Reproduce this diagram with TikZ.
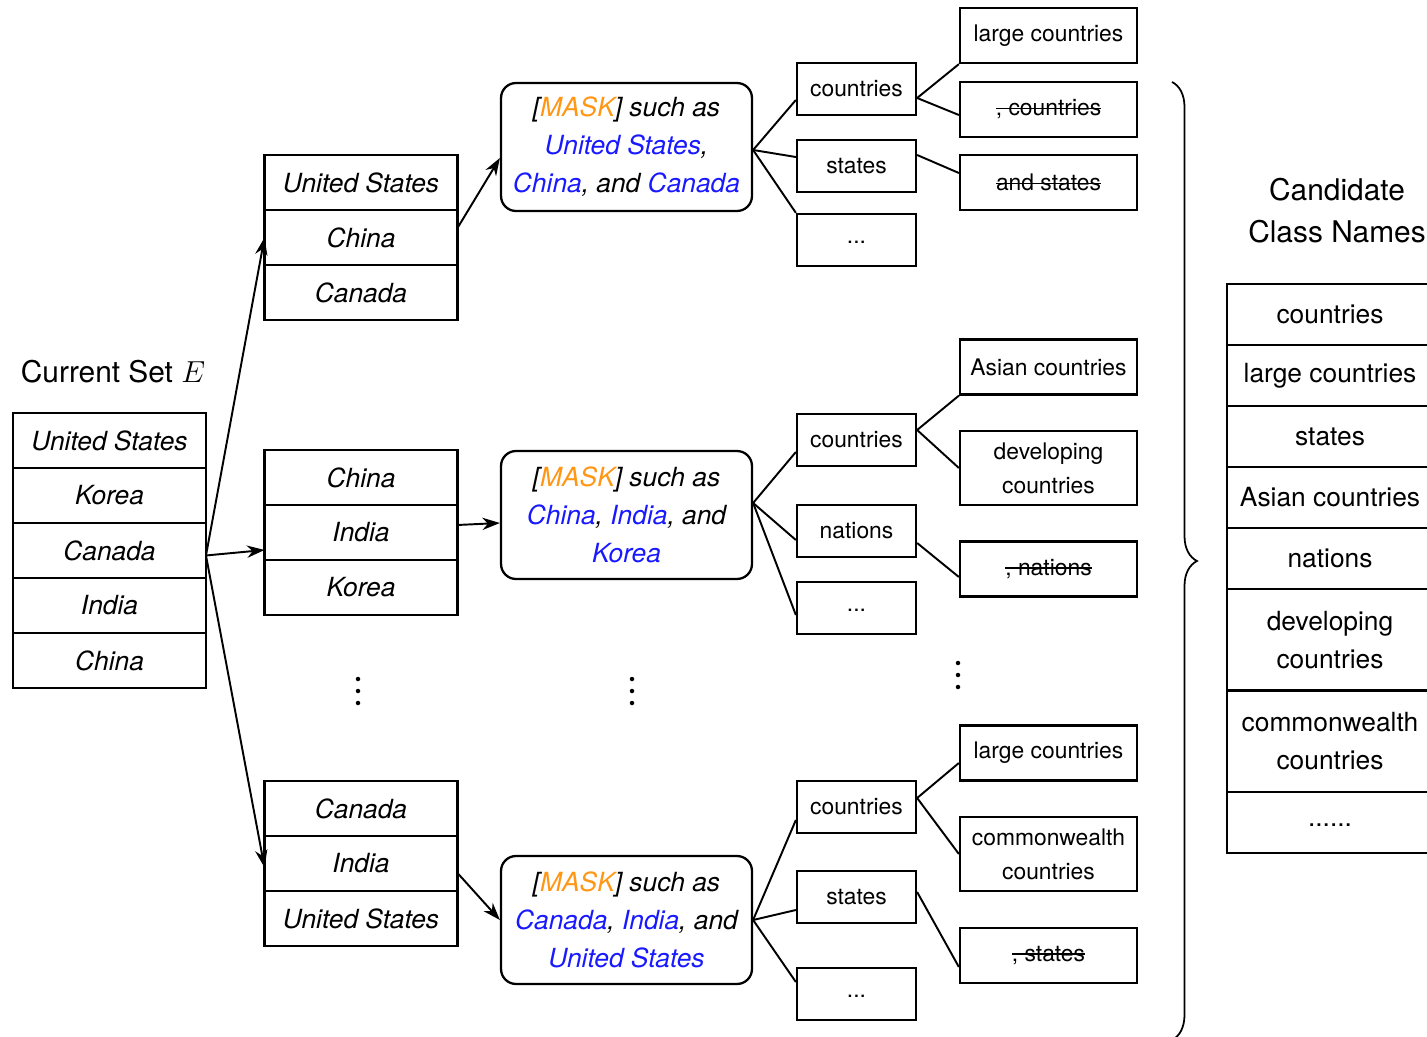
\documentclass[tikz,border=0pt]{standalone}
\usepackage{fontspec}
\setmainfont{TeX Gyre Heros}
\usepackage{tikz}
\usetikzlibrary{positioning}
\usetikzlibrary{arrows.meta}
\usetikzlibrary{decorations.pathreplacing}

\definecolor{maskorange}{RGB}{255,150,20}
\definecolor{seedblue}{RGB}{25,25,255}

\newcommand{\mask}{[\textcolor{maskorange}{MASK}]}
\newcommand{\seed}[1]{\textcolor{seedblue}{#1}}
\newcommand{\struck}[1]{\setbox0\hbox{#1}\rlap{\rule[0.3em]{\wd0}{0.7pt}}\box0}

\tikzset{
  cell/.style={draw, line width=1.3pt, outer sep=0pt, inner sep=0pt, minimum width=3.86cm, minimum height=1.1cm, font=\fontsize{15}{18}\selectfont\itshape},
  prompt/.style={draw, line width=1.3pt, rounded corners=0.3cm, minimum width=5.02cm, minimum height=2.56cm, align=center, font=\fontsize{15}{21.6}\selectfont\itshape},
  word/.style={draw, line width=1.3pt, minimum width=2.38cm, minimum height=1.04cm, font=\fontsize{13}{16}\selectfont},
  phrase/.style={draw, line width=1.3pt, minimum width=3.54cm, minimum height=1.1cm, align=center, font=\fontsize{13}{19.4}\selectfont},
  cand/.style={draw, line width=1.3pt, outer sep=0pt, inner sep=0pt, minimum width=4.12cm, minimum height=1.22cm, align=center, font=\fontsize{15}{21.6}\selectfont},
  more/.style={text height=0.45em, text depth=0pt},
  heading/.style={align=center, font=\fontsize{17}{24}\selectfont},
  link/.style={line width=1.1pt},
  feed/.style={line width=1.1pt, -{Stealth[length=10pt, width=7pt]}}
}

\begin{document}
\begin{tikzpicture}[x=0.02cm, y=-0.02cm]
    \useasboundingbox (0,0) rectangle (1427,1037);
    \clip (0,0) rectangle (1427,1037);

    % current set
    \node[heading] (curtitle) at (113,372) {Current Set $E$};
    \node[cell] (cur1) at (109.5,440.5) {United States};
    \node[cell, below=0pt of cur1] (cur2) {Korea};
    \node[cell, below=0pt of cur2] (cur3) {Canada};
    \node[cell, below=0pt of cur3] (cur4) {India};
    \node[cell, below=0pt of cur4] (cur5) {China};

    % sampled seeds
    \node[cell] (t1) at (361,182.5) {United States};
    \node[cell, below=0pt of t1] (t2) {China};
    \node[cell, below=0pt of t2] (t3) {Canada};
    \node[cell] (m1) at (361,477.5) {China};
    \node[cell, below=0pt of m1] (m2) {India};
    \node[cell, below=0pt of m2] (m3) {Korea};
    \node[cell] (b1) at (361,808.5) {Canada};
    \node[cell, below=0pt of b1] (b2) {India};
    \node[cell, below=0pt of b2] (b3) {United States};

    % queries
    \node[prompt] (p1) at (626.5,147) {\mask{} such as\\\seed{United States},\\\seed{China}, and \seed{Canada}};
    \node[prompt] (p2) at (626.5,515) {\mask{} such as\\\seed{China}, \seed{India}, and\\\seed{Korea}};
    \node[prompt] (p3) at (626.5,920) {\mask{} such as\\\seed{Canada}, \seed{India}, and\\\seed{United States}};

    % head words
    \node[word] (ta) at (856.5,89) {countries};
    \node[word] (tb) at (856.5,166) {states};
    \node[word, more] (tc) at (856.5,240) {...};
    \node[word] (ma) at (856.5,440) {countries};
    \node[word] (mb) at (856.5,531) {nations};
    \node[word, more] (mc) at (856.5,608) {...};
    \node[word] (ba) at (856.5,807) {countries};
    \node[word] (bb) at (856.5,897) {states};
    \node[word, more] (bc) at (856.5,994) {...};

    % expanded phrases
    \node[phrase] (tpa) at (1048.5,35.5) {large countries};
    \node[phrase] (tpb) at (1048.5,109.5) {\struck{, countries}};
    \node[phrase] (tpc) at (1048.5,182.5) {\struck{and states}};
    \node[phrase] (mpa) at (1048.5,367) {Asian countries};
    \node[phrase, minimum height=1.48cm] (mpb) at (1048.5,468) {developing\\countries};
    \node[phrase] (mpc) at (1048.5,569) {\struck{, nations}};
    \node[phrase] (bpa) at (1048.5,753) {large countries};
    \node[phrase, minimum height=1.48cm] (bpb) at (1048.5,854) {commonwealth\\countries};
    \node[phrase] (bpc) at (1048.5,955.5) {\struck{, states}};

    % candidate list
    \node[heading] (candtitle) at (1337,211) {Candidate\\Class Names};
    \node[cand] (c1) at (1330,314.5) {countries};
    \node[cand, below=0pt of c1] (c2) {large countries};
    \node[cand, below=0pt of c2] (c3) {states};
    \node[cand, below=0pt of c3] (c4) {Asian countries};
    \node[cand, below=0pt of c4] (c5) {nations};
    \node[cand, below=0pt of c5, minimum height=2.03cm] (c6) {developing\\countries};
    \node[cand, below=0pt of c6, minimum height=2.03cm] (c7) {commonwealth\\countries};
    \node[cand, below=0pt of c7, more] (c8) {......};

    % sampling
    \draw[feed] ([yshift=-0.1cm]cur3.east) -- (t2.west);
    \draw[feed] ([yshift=-0.1cm]cur3.east) -- ([yshift=-0.35cm]m2.west);
    \draw[feed] ([yshift=-0.1cm]cur3.east) -- ([yshift=-0.08cm]b2.west);
    \draw[feed] ([yshift=0.19cm]t2.east) -- ([yshift=-0.22cm]p1.west);
    \draw[feed] ([yshift=0.15cm]m2.east) -- ([yshift=-0.16cm]p2.west);
    \draw[feed] ([yshift=-0.19cm]b2.east) -- (p3.west);

    % top branch
    \draw[link] ([yshift=-0.06cm]p1.east) -- ([yshift=-0.22cm]ta.west);
    \draw[link] ([yshift=-0.06cm]p1.east) -- ([yshift=0.18cm]tb.west);
    \draw[link] ([yshift=-0.06cm]p1.east) -- (tc.north west);
    \draw[link] ([yshift=-0.18cm]ta.east) -- (tpa.south west);
    \draw[link] ([yshift=-0.18cm]ta.east) -- ([yshift=-0.11cm]tpb.west);
    \draw[link] ([yshift=0.22cm]tb.east) -- ([yshift=0.19cm]tpc.west);

    % middle branch
    \draw[link] ([yshift=0.24cm]p2.east) -- ([yshift=-0.24cm]ma.west);
    \draw[link] ([yshift=0.24cm]p2.east) -- ([yshift=-0.18cm]mb.west);
    \draw[link] ([yshift=0.24cm]p2.east) -- ([yshift=-0.14cm]mc.west);
    \draw[link] ([yshift=0.2cm]ma.east) -- (mpa.south west);
    \draw[link] ([yshift=0.2cm]ma.east) -- (mpb.west);
    \draw[link] ([yshift=-0.24cm]mb.east) -- ([yshift=-0.16cm]mpc.west);

    % bottom branch
    \draw[link] (p3.east) -- ([yshift=-0.26cm]ba.west);
    \draw[link] (p3.east) -- ([yshift=-0.26cm]bb.west);
    \draw[link] (p3.east) -- ([yshift=0.24cm]bc.west);
    \draw[link] ([yshift=0.18cm]ba.east) -- ([yshift=-0.2cm]bpa.west);
    \draw[link] ([yshift=0.18cm]ba.east) -- (bpb.west);
    \draw[link] ([yshift=0.1cm]bb.east) -- ([yshift=-0.23cm]bpc.west);

    % more samples
    \foreach \x/\y in {358/691, 632/691, 958/675}
        \foreach \d in {-12,0,12}
            \fill (\x,\y+\d) circle (0.045cm);

    \draw[line width=1pt, decorate, decoration={brace, amplitude=0.5cm}] (1172,82) -- (1172,1040);
\end{tikzpicture}
\end{document}
